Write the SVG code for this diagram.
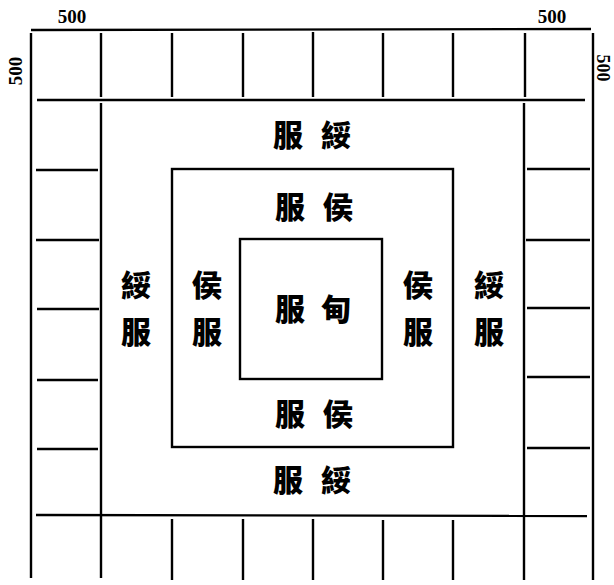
<svg xmlns="http://www.w3.org/2000/svg" width="614" height="585" viewBox="0 0 614 585">
<style>
.ln{stroke:#000;stroke-width:2.4;fill:none;stroke-linecap:butt}
.zh{font-family:"Noto Sans CJK TC","Noto Sans CJK SC",sans-serif;font-weight:900;font-size:30px;fill:#000;text-anchor:middle;dominant-baseline:central}
.num{font-family:"Liberation Serif",serif;font-weight:bold;font-size:19px;fill:#000;text-anchor:middle;dominant-baseline:central}
</style>
<rect width="614" height="585" fill="#fff"/>
<g id="labels-500">
<text class="num" x="72" y="16">500</text>
<text class="num" x="552" y="16">500</text>
<text class="num" transform="translate(15,71) rotate(-90)">500</text>
<text class="num" style="font-size:18px" transform="translate(603,68) rotate(90)">500</text>
</g>
<g id="connectors">
<path class="ln" d="M31,30 L591,29"/>
<path class="ln" d="M31,33 L31,578"/>
<path class="ln" d="M593,33 L593,580"/>
<path class="ln" d="M101,33 V97 M172,33 V97 M243,33 V97 M313,32 V97 M383,33 V97 M453,33 V97 M525,33 V97"/>
<path class="ln" d="M37,100 L585,100"/>
<path class="ln" d="M101,103 V578 M524,103 V580"/>
<path class="ln" d="M36,170 H98 M36,240 H99 M37,309 H99 M37,380 H98 M37,449 H98"/>
<path class="ln" d="M527,169 H590 M526,240 H590 M527,308 H590 M527,377 H590 M527,448 H590"/>
<path class="ln" d="M36,515 L587,516"/>
<path class="ln" d="M172,519 V580 M243,519 V580 M313,519 V580 M383,520 V580 M453,520 V580"/>
</g>
<g id="suifu-zone">
<text class="zh" x="288" y="133">服</text>
<text class="zh" x="336" y="133">綏</text>
<text class="zh" x="288" y="478">服</text>
<text class="zh" x="336" y="478">綏</text>
<text class="zh" x="136" y="283">綏</text>
<text class="zh" x="136" y="330">服</text>
<text class="zh" x="489" y="283">綏</text>
<text class="zh" x="489" y="330">服</text>
</g>
<g id="houfu-zone">
<rect class="ln" x="172" y="169" width="281" height="278"/>
<text class="zh" x="290" y="205">服</text>
<text class="zh" x="338" y="205">侯</text>
<text class="zh" x="290" y="412">服</text>
<text class="zh" x="338" y="412">侯</text>
<text class="zh" x="207" y="283">侯</text>
<text class="zh" x="207" y="330">服</text>
<text class="zh" x="418" y="283">侯</text>
<text class="zh" x="418" y="330">服</text>
</g>
<g id="dianfu-zone">
<rect class="ln" x="240" y="239" width="142" height="140"/>
<text class="zh" x="290" y="307">服</text>
<text class="zh" x="336" y="307">甸</text>
</g>
</svg>
